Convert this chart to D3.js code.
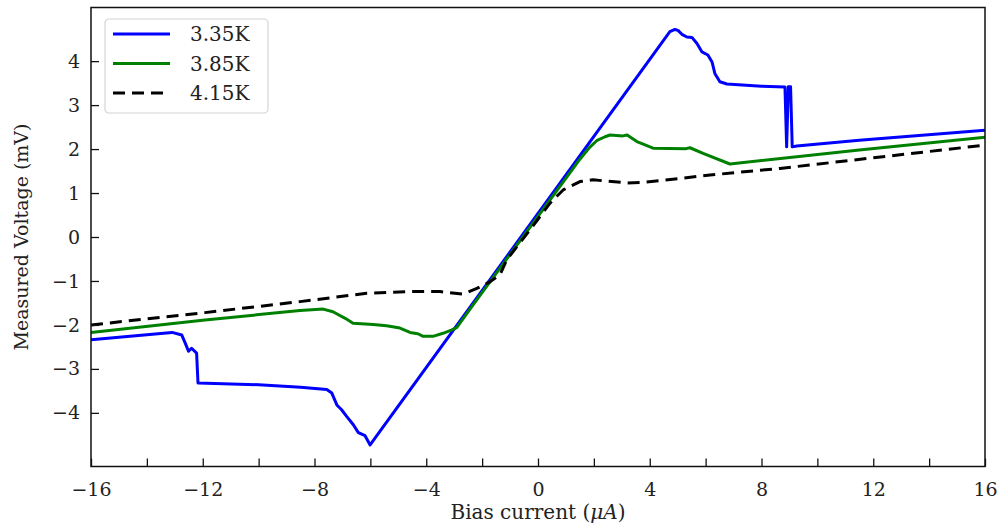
<!DOCTYPE html>
<html>
<head>
<meta charset="utf-8">
<script src="https://cdn.jsdelivr.net/npm/d3@7"></script>
<style>
  html, body { margin: 0; padding: 0; background: #fff; }
  svg text { font-family: "DejaVu Serif", "Liberation Serif", serif; fill: #222; }
</style>
</head>
<body>
<svg id="chart" width="1001" height="526"></svg>
<script>
// series: [bias current (uA), measured voltage (mV)]
var series335 = [
	[-16, -2.34], [-14.5, -2.25], [-13.1, -2.17], [-12.75, -2.23], [-12.63, -2.41],
	[-12.51, -2.6], [-12.4, -2.53], [-12.22, -2.64], [-12.17, -3.32], [-10, -3.36],
	[-8.5, -3.42], [-7.56, -3.47], [-7.38, -3.55], [-7.2, -3.82], [-7.03, -3.93],
	[-6.85, -4.08], [-6.61, -4.27], [-6.43, -4.45], [-6.19, -4.52], [-6.01, -4.73],
	[4.72, 4.67], [4.9, 4.72], [5.01, 4.7], [5.15, 4.61], [5.33, 4.55], [5.51, 4.54],
	[5.69, 4.4], [5.87, 4.21], [6.08, 4.14], [6.23, 3.98], [6.33, 3.72], [6.51, 3.53],
	[6.76, 3.48], [8.0, 3.43], [8.84, 3.41], [8.9, 2.05], [8.96, 3.42], [9.04, 3.42],
	[9.1, 2.05], [9.26, 2.07], [11.5, 2.2], [16, 2.43]
];
var series385 = [
	[-16, -2.17], [-11.92, -1.89], [-8.52, -1.67], [-7.69, -1.64], [-7.34, -1.7],
	[-6.9, -1.85], [-6.62, -1.96], [-5.9, -1.99], [-5.42, -2.02], [-4.94, -2.07],
	[-4.58, -2.17], [-4.3, -2.2], [-4.11, -2.26], [-3.76, -2.26], [-3.4, -2.19],
	[-3.1, -2.12], [-2.91, -2.06], [-2.33, -1.55], [-1.36, -0.71], [0, 0.47], [1.2, 1.51],
	[1.5, 1.77], [1.85, 2.04], [2.1, 2.19], [2.4, 2.28], [2.58, 2.32], [3.04, 2.3],
	[3.19, 2.32], [3.54, 2.17], [4.12, 2.02], [5.3, 2.01], [5.44, 2.03], [5.91, 1.9],
	[6.87, 1.66], [11.5, 1.98], [16, 2.27]
];
var series415 = [
	[-16, -2.0], [-11.92, -1.72], [-8.52, -1.47], [-6.13, -1.28], [-4.58, -1.24],
	[-3.51, -1.24], [-3.15, -1.27], [-2.68, -1.3], [-2.19, -1.17], [-1.72, -1.02],
	[-1.36, -0.86], [-1.12, -0.52], [-0.29, 0.16], [0.43, 0.77], [0.9, 1.07], [1.5, 1.26],
	[1.97, 1.3], [3.19, 1.23], [3.65, 1.24], [4.37, 1.28], [6.16, 1.41], [8.66, 1.56], [16, 2.09]
];
var seriesNames = ["3.35K", "3.85K", "4.15K"];
var seriesColors = ["#0000ff", "#008000", "#000000"];
var xTicks = d3.range(-16, 17, 2);
var yTicks = d3.range(-4, 5, 1);

var margin = { top: 7.5, right: 16, bottom: 59.5, left: 91 },
	width = 1001 - margin.left - margin.right,
	height = 526 - margin.top - margin.bottom;

var svg = d3.select("#chart");

var x = d3.scaleLinear().domain([-16, 16]).range([margin.left, margin.left + width]);
var y = d3.scaleLinear().domain([-5.22, 5.22]).range([margin.top + height, margin.top]);

svg.append("clipPath").attr("id", "plot-clip")
	.append("rect")
	.attr("x", margin.left).attr("y", margin.top)
	.attr("width", width).attr("height", height);

// lines
var line = d3.line().x(function(d) { return x(d[0]); }).y(function(d) { return y(d[1]); });
var allSeries = [series335, series385, series415];

svg.append("g").attr("clip-path", "url(#plot-clip)")
	.selectAll("path").data(allSeries).enter().append("path")
	.attr("d", line)
	.attr("fill", "none")
	.attr("stroke", function(d, i) { return seriesColors[i]; })
	.attr("stroke-width", 3)
	.attr("stroke-linejoin", "round")
	.attr("stroke-dasharray", function(d, i) { return i == 2 ? "12,7" : null; });

// axes (ticks pointing inward)
var fmt = function(d) { return d < 0 ? "\u2212" + Math.abs(d) : "" + d; };

var xAxis = svg.append("g")
	.attr("transform", "translate(0," + (margin.top + height) + ")")
	.call(d3.axisBottom(x).tickValues(xTicks).tickSizeInner(-8).tickSizeOuter(0)
		.tickFormat(function(d) { return d % 4 == 0 ? fmt(d) : ""; }));
xAxis.select(".domain").remove();
xAxis.selectAll(".tick line").attr("stroke", "#111").attr("stroke-width", 1.3);
xAxis.selectAll(".tick text").attr("y", 16).attr("dy", "0.71em")
	.style("font-size", "19px").attr("fill", "#222");

var yAxis = svg.append("g")
	.attr("transform", "translate(" + margin.left + ",0)")
	.call(d3.axisLeft(y).tickValues(yTicks).tickSizeInner(-8).tickSizeOuter(0).tickFormat(fmt));
yAxis.select(".domain").remove();
yAxis.selectAll(".tick line").attr("stroke", "#111").attr("stroke-width", 1.3);
yAxis.selectAll(".tick text").attr("x", -11)
	.style("font-size", "19px").attr("fill", "#222");

// frame
svg.append("rect")
	.attr("x", margin.left).attr("y", margin.top)
	.attr("width", width).attr("height", height)
	.attr("fill", "none").attr("stroke", "#111").attr("stroke-width", 1.5);

// axis labels
var xLabel = svg.append("text")
	.attr("x", margin.left + width / 2).attr("y", 519)
	.attr("text-anchor", "middle").style("font-size", "20px");
xLabel.append("tspan").text("Bias current (");
xLabel.append("tspan").style("font-style", "italic").text("\u03bcA");
xLabel.append("tspan").text(")");

svg.append("text")
	.attr("transform", "translate(28," + (margin.top + height / 2) + ") rotate(-90)")
	.attr("text-anchor", "middle")
	.style("font-size", "19px")
	.text("Measured Voltage (mV)");

// legend
var legend = svg.append("g").attr("transform", "translate(105,19)");
legend.append("rect")
	.attr("width", 163).attr("height", 94).attr("rx", 4)
	.attr("fill", "#fff").attr("fill-opacity", 0.8)
	.attr("stroke", "#d4d4d4").attr("stroke-width", 1.2);

var items = legend.selectAll("g.item").data(seriesNames).enter().append("g")
	.attr("class", "item")
	.attr("transform", function(d, i) { return "translate(0," + (15 + i * 29.5) + ")"; });
items.append("line")
	.attr("x1", 8).attr("x2", 65)
	.attr("stroke", function(d, i) { return seriesColors[i]; })
	.attr("stroke-width", 3)
	.attr("stroke-dasharray", function(d, i) { return i == 2 ? "12,7" : null; });
items.append("text")
	.attr("x", 85).attr("dy", "0.36em")
	.style("font-size", "20px")
	.text(function(d) { return d; });
</script>
</body>
</html>
